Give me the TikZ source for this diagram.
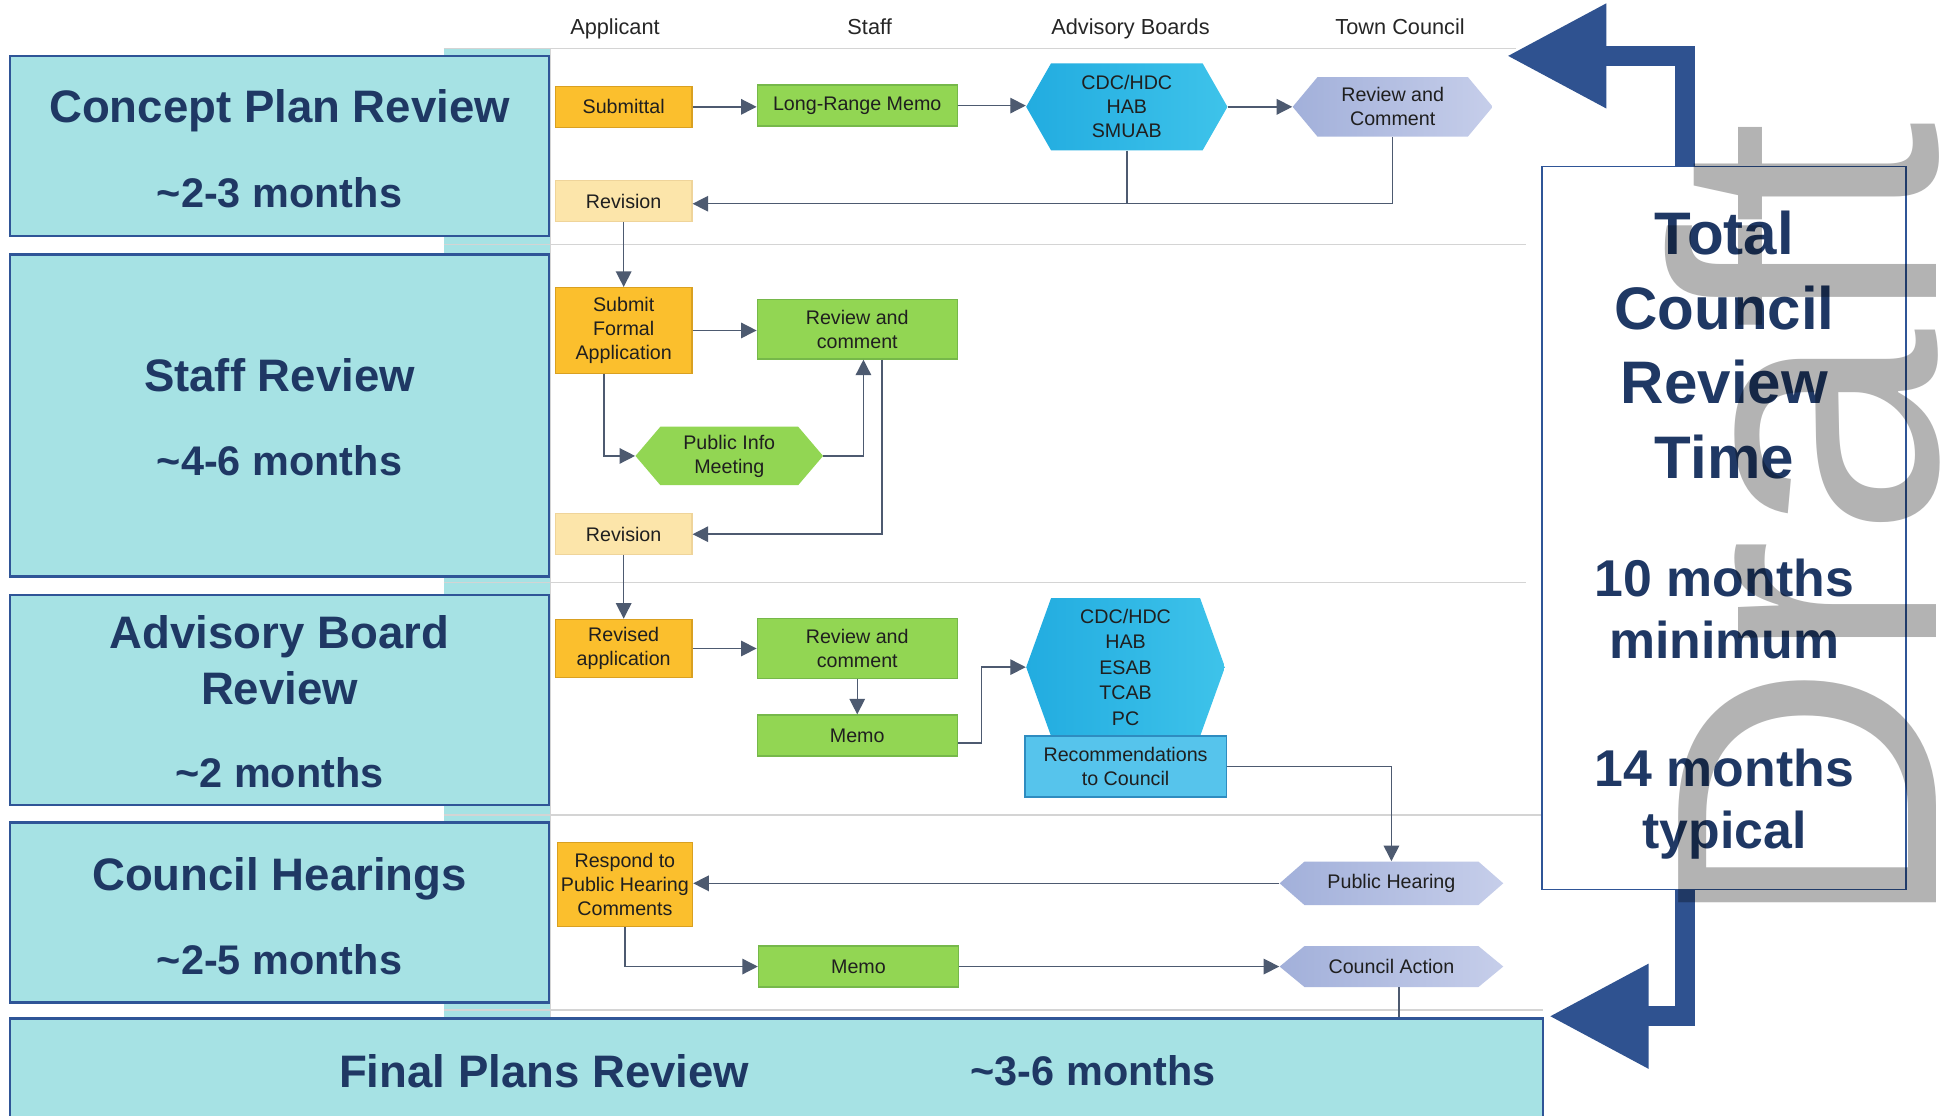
\documentclass[tikz,border=0pt]{standalone}
\usepackage{fontspec}
\setmainfont{Liberation Sans}
\usetikzlibrary{arrows.meta,calc}
\definecolor{navyT}{HTML}{1F3864}
\definecolor{bordB}{HTML}{2F5597}
\definecolor{tealbg}{HTML}{A6E2E4}
\definecolor{orangeF}{HTML}{FBBF2D}
\definecolor{orangeD}{HTML}{D9A021}
\definecolor{greenF}{HTML}{92D653}
\definecolor{greenD}{HTML}{76B84A}
\definecolor{paleF}{HTML}{FCE5AA}
\definecolor{paleD}{HTML}{EFD49A}
\definecolor{hexA}{HTML}{22ACE0}
\definecolor{hexB}{HTML}{3EC3EA}
\definecolor{recF}{HTML}{56C4EC}
\definecolor{recD}{HTML}{2E8CC0}
\definecolor{lavA}{HTML}{A2B0DA}
\definecolor{lavB}{HTML}{C6CEEA}
\definecolor{connC}{HTML}{4D5A70}
\definecolor{sepC}{HTML}{D4D4D4}
\definecolor{arrowB}{HTML}{2F5290}
\definecolor{wmC}{HTML}{B3B3B3}
\definecolor{hdrC}{HTML}{262626}
\tikzset{
  nodefont/.style={font=\fontsize{9.5}{11.6}\selectfont, text=black!88},
  flowbox/.style={rectangle, nodefont, align=center, inner sep=0pt, line width=0.6pt},
  orangebox/.style={flowbox, fill=orangeF, draw=orangeD, minimum width=66pt},
  greenbox/.style={flowbox, fill=greenF, draw=greenD, minimum width=96.6pt},
  palebox/.style={flowbox, fill=paleF, draw=paleD, minimum width=66pt, minimum height=19.8pt},
  recbox/.style={flowbox, fill=recF, draw=recD},
  hexnode/.style 2 args={rectangle, nodefont, align=center, inner sep=0pt,
    path picture={\shade[left color=#1, right color=#2]
      ([xshift=12pt]path picture bounding box.north west) --
      ([xshift=-12pt]path picture bounding box.north east) --
      (path picture bounding box.east) --
      ([xshift=-12pt]path picture bounding box.south east) --
      ([xshift=12pt]path picture bounding box.south west) --
      (path picture bounding box.west) -- cycle;}},
  hdr/.style={font=\fontsize{10.5}{12}\selectfont, text=hdrC, inner sep=0pt, anchor=base},
  phase/.style={rectangle, fill=tealbg, draw=bordB, line width=1.2pt, inner sep=0pt},
  titletxt/.style={font=\fontsize{22}{26}\selectfont\bfseries, text=navyT, inner sep=0pt, anchor=base},
  monthtxt/.style={font=\fontsize{20}{24}\selectfont\bfseries, text=navyT, inner sep=0pt, anchor=base},
  bigtxt/.style={font=\fontsize{29}{34}\selectfont\bfseries, text=navyT, inner sep=0pt, anchor=base},
  midtxt/.style={font=\fontsize{25}{30}\selectfont\bfseries, text=navyT, inner sep=0pt, anchor=base},
  conn/.style={draw=connC, line width=0.7pt, -{Triangle[length=7.5pt,width=7.5pt]}},
  plainline/.style={draw=connC, line width=0.7pt},
  sepline/.style={draw=sepC, line width=0.6pt},
  bigarrow/.style={draw=arrowB, line width=9.6pt, line join=miter, -{Triangle[length=48pt,width=48pt]}},
}
\begin{document}
\begin{tikzpicture}[x=0.6pt, y=-0.6pt]
\useasboundingbox (0,0) rectangle (1568,898);
\fill[white] (0,0) rectangle (1568,898);
\clip (0,0) rectangle (1568,898);

% teal strip and separators
\fill[tealbg] (357,39) rectangle (443,898);
\draw[sepline] (443,39) -- (443,898);
\draw[sepline] (357,39) -- (1220,39);
\draw[sepline] (357,197) -- (1228,197);
\draw[sepline] (357,469) -- (1228,469);
\draw[sepline] (357,656) -- (1240,656);
\draw[sepline] (357,813) -- (1242,813);

% headers
\node[hdr] (hA) at (495,28) {Applicant};
\node[hdr] (hS) at (700,28) {Staff};
\node[hdr] (hB) at (910,28) {Advisory Boards};
\node[hdr] (hC) at (1127,28) {Town Council};

% phase boxes
\node[phase, minimum width=260.4pt, minimum height=87pt] (lb1) at (225,117.5) {};
\node[phase, minimum width=260.4pt, minimum height=155.4pt] (lb2) at (225,334.5) {};
\node[phase, minimum width=260.4pt, minimum height=101.4pt] (lb3) at (225,563.5) {};
\node[phase, minimum width=260.4pt, minimum height=87pt] (lb4) at (225,734.5) {};
\node[phase, minimum width=740.4pt, minimum height=54pt] (final) at (625,865) {};

\node[titletxt] (t1) at (225,99) {Concept Plan Review};
\node[monthtxt] (m1) at (225,167) {\textasciitilde2-3 months};
\node[titletxt] (t2) at (225,315) {Staff Review};
\node[monthtxt] (m2) at (225,383) {\textasciitilde4-6 months};
\node[titletxt] (t3a) at (225,522) {Advisory Board};
\node[titletxt] (t3b) at (225,567) {Review};
\node[monthtxt] (m3) at (225,634) {\textasciitilde2 months};
\node[titletxt] (t4) at (225,717) {Council Hearings};
\node[monthtxt] (m4) at (225,784) {\textasciitilde2-5 months};
\node[titletxt] (t5) at (438,875) {Final Plans Review};
\node[monthtxt] (m5) at (880,874) {\textasciitilde3-6 months};

% flow nodes
\node[orangebox, minimum height=19.8pt] (sub) at (502,86) {Submittal};
\node[greenbox, minimum height=19.8pt] (lrm) at (690,85) {Long-Range Memo};
\node[hexnode={hexA}{hexB}, minimum width=97.2pt, minimum height=42pt] (hex1) at (907,86) {CDC/HDC\\HAB\\SMUAB};
\node[hexnode={lavA}{lavB}, minimum width=96.6pt, minimum height=28.8pt] (rac1) at (1121,86) {Review and\\Comment};
\node[palebox] (rev1) at (502,162) {Revision};

\node[orangebox, minimum height=41.4pt] (sfa) at (502,266) {Submit\\Formal\\Application};
\node[greenbox, minimum height=28.8pt] (rac2) at (690,265) {Review and\\comment};
\node[hexnode={greenF}{greenF}, minimum width=90.6pt, minimum height=28.2pt] (pim) at (587,367) {Public Info\\Meeting};
\node[palebox] (rev2) at (502,430) {Revision};

\node[orangebox, minimum height=28.2pt] (ra) at (502,522) {Revised\\application};
\node[greenbox, minimum height=28.8pt] (rac3) at (690,522) {Review and\\comment};
\node[greenbox, minimum height=19.8pt] (memo1) at (690,592) {Memo};
\node[hexnode={hexA}{hexB}, minimum width=96pt, minimum height=66.6pt, font=\fontsize{9.5}{12.3}\selectfont] (hex2) at (906,537) {CDC/HDC\\HAB\\ESAB\\TCAB\\PC};
\node[recbox, minimum width=97.2pt, minimum height=29.4pt] (rtc) at (906,617) {Recommendations\\to Council};

\node[orangebox, minimum width=65.4pt, minimum height=40.8pt] (resp) at (503,712) {Respond to\\Public Hearing\\Comments};
\node[hexnode={lavA}{lavB}, minimum width=108pt, minimum height=21pt] (ph) at (1120,711) {Public Hearing};
\node[greenbox, minimum height=19.8pt] (memo2) at (691,778) {Memo};
\node[hexnode={lavA}{lavB}, minimum width=108pt, minimum height=19.8pt] (ca) at (1120,778) {Council Action};

% connectors
\draw[conn] (sub.east) -- (sub.east -| lrm.west);
\draw[conn] (lrm.east) -- (lrm.east -| hex1.west);
\draw[conn] (hex1.east) -- (hex1.east -| rac1.west);
\draw[plainline] (hex1.south) -- ([yshift=-1.2pt]hex1.south |- rev1.east);
\draw[conn] (rac1.south) |- ([yshift=-1.2pt]rev1.east);
\draw[conn] (rev1.south) -- (sfa.north);
\draw[conn] (sfa.east) -- (sfa.east -| rac2.west);
\draw[conn] ([xshift=-9.6pt]sfa.south) |- (pim.west);
\draw[conn] (pim.east) -| ([xshift=3pt]rac2.south);
\draw[conn] ([xshift=12pt]rac2.south) |- (rev2.east);
\draw[conn] (rev2.south) -- (ra.north);
\draw[conn] (ra.east) -- (ra.east -| rac3.west);
\draw[conn] (rac3.south) -- (memo1.north);
\draw[conn] ([yshift=-3.6pt]memo1.east) -- ++(11.4pt,0) |- (hex2.west);
\draw[conn] (rtc.east) -| (ph.north);
\draw[conn] (ph.west) -- (ph.west -| resp.east);
\draw[conn] (resp.south) |- (memo2.west);
\draw[conn] (memo2.east) -- (memo2.east -| ca.west);
\draw[plainline] ([xshift=3.6pt]ca.south) -- ([xshift=3.6pt]ca.south |- final.north);

% total box
\node[rectangle, draw=bordB, line width=0.9pt, minimum width=175.8pt, minimum height=349.2pt, inner sep=0pt] (tot) at (1387.5,425) {};
\node[bigtxt] (tt1) at (1388,205) {Total};
\node[bigtxt] (tt2) at (1388,265) {Council};
\node[bigtxt] (tt3) at (1388,325) {Review};
\node[bigtxt] (tt4) at (1388,385) {Time};
\node[midtxt] (tm1) at (1388,480) {10 months};
\node[midtxt] (tm2) at (1388,530) {minimum};
\node[midtxt] (tm3) at (1388,633) {14 months};
\node[midtxt] (tm4) at (1388,683) {typical};

% big arrows
\coordinate (stem) at (1356,0);
\coordinate (toptip) at (1213,45);
\coordinate (bottip) at (1247,818);
\draw[bigarrow] (tot.north -| stem) |- (toptip);
\draw[bigarrow] (tot.south -| stem) |- (bottip);

% watermark
\begin{scope}[blend mode=multiply]
\node[rotate=90, anchor=base west, inner sep=0pt, text=wmC, font=\fontsize{181}{190}\selectfont] (draft) at (1559,752) {Draft};
\end{scope}
\end{tikzpicture}
\end{document}
